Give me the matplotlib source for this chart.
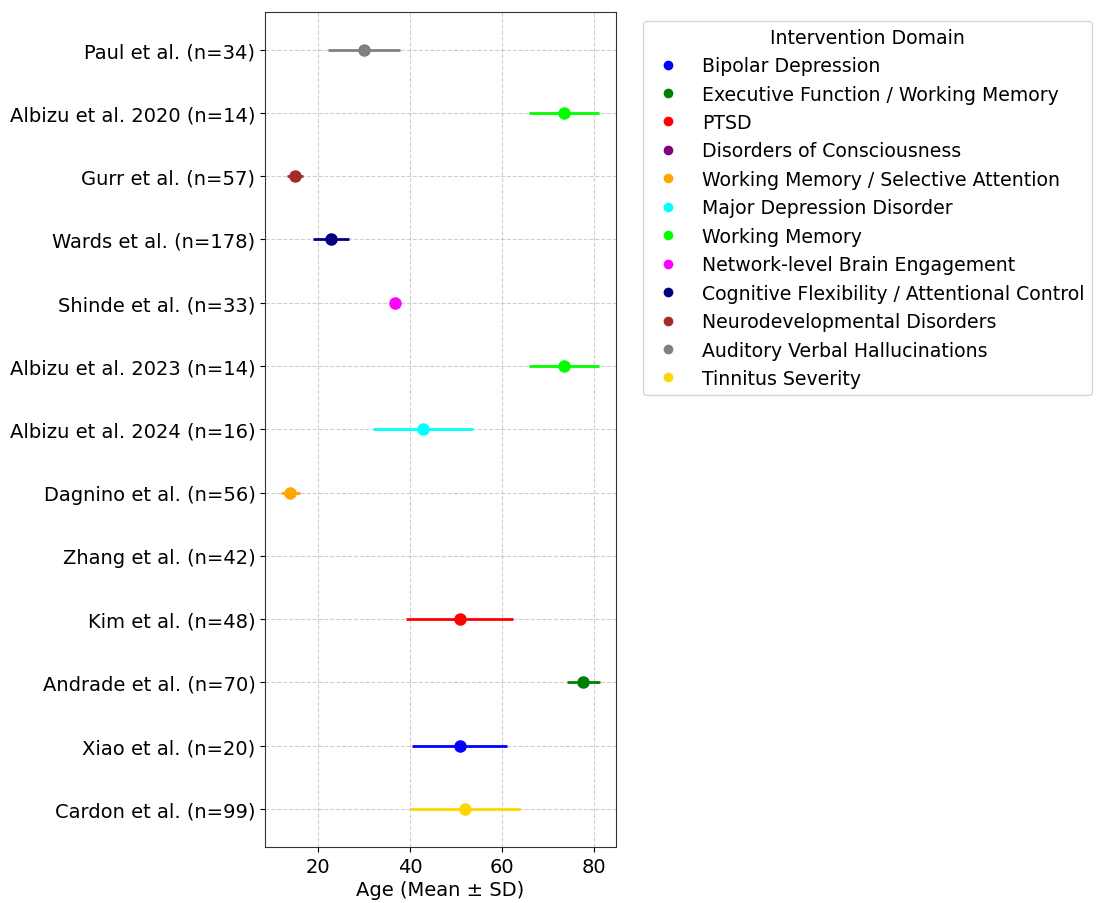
import matplotlib
matplotlib.use("Agg")
import matplotlib.pyplot as plt
from matplotlib.lines import Line2D
import numpy as np

# Studies, listed top to bottom as in the figure.
studies = ["Paul et al. (n=34)", "Albizu et al. 2020 (n=14)", "Gurr et al. (n=57)",
           "Wards et al. (n=178)", "Shinde et al. (n=33)", "Albizu et al. 2023 (n=14)",
           "Albizu et al. 2024 (n=16)", "Dagnino et al. (n=56)", "Zhang et al. (n=42)",
           "Kim et al. (n=48)", "Andrade et al. (n=70)", "Xiao et al. (n=20)",
           "Cardon et al. (n=99)"]
age_mean = [30.0, 73.5, 15.0, 22.8, 36.7, 73.5, 42.8, 14.0, np.nan, 50.8, 77.7, 50.8, 52.0]
age_sd = [7.8, 7.7, 1.8, 3.9, 0.0, 7.7, 10.8, 2.1, np.nan, 11.6, 3.6, 10.4, 12.0]
study_domain = ["Auditory Verbal Hallucinations", "Working Memory", "Neurodevelopmental Disorders",
                "Cognitive Flexibility / Attentional Control", "Network-level Brain Engagement",
                "Working Memory", "Major Depression Disorder", "Working Memory / Selective Attention",
                "Disorders of Consciousness", "PTSD", "Executive Function / Working Memory",
                "Bipolar Depression", "Tinnitus Severity"]

# Legend order and colours.
domains = ["Bipolar Depression", "Executive Function / Working Memory", "PTSD",
           "Disorders of Consciousness", "Working Memory / Selective Attention",
           "Major Depression Disorder", "Working Memory", "Network-level Brain Engagement",
           "Cognitive Flexibility / Attentional Control", "Neurodevelopmental Disorders",
           "Auditory Verbal Hallucinations", "Tinnitus Severity"]
domain_colors = ["blue", "green", "red", "purple", "orange", "cyan", "lime", "magenta",
                 "navy", "brown", "gray", "gold"]
color_of = dict(zip(domains, domain_colors))

plt.rcParams["font.size"] = 14

fig = plt.figure(figsize=(11, 9.04), dpi=100)
ax = fig.add_axes([0.241, 0.062, 0.319, 0.924])

n = len(studies)
ypos = np.arange(n)[::-1]
for y, m, s, d in zip(ypos, age_mean, age_sd, study_domain):
    c = color_of[d]
    ax.errorbar(m, y, xerr=s, fmt="o", color=c, ecolor=c, elinewidth=2,
                markersize=8, capsize=0)

ax.set_yticks(ypos)
ax.set_yticklabels(studies)
ax.set_ylim(-0.6, n - 0.4)
ax.set_xlim(8.5, 84.8)
ax.set_xticks([20, 40, 60, 80])
ax.set_xlabel("Age (Mean ± SD)", labelpad=3)
ax.grid(True, linestyle="--", alpha=0.6)
ax.tick_params(labelsize=14)
for sp in ax.spines.values():
    sp.set_color("#333333")

handles = [Line2D([0], [0], marker="o", color="w", markerfacecolor=c, markersize=8,
                  linestyle="None") for c in domain_colors]
ax.legend(handles, domains, title="Intervention Domain", bbox_to_anchor=(1.05, 1),
          loc="upper left", fontsize=13.6, title_fontsize=13.6, labelspacing=0.5,
          borderpad=0.35)

fig.savefig("out.png", dpi=100)
